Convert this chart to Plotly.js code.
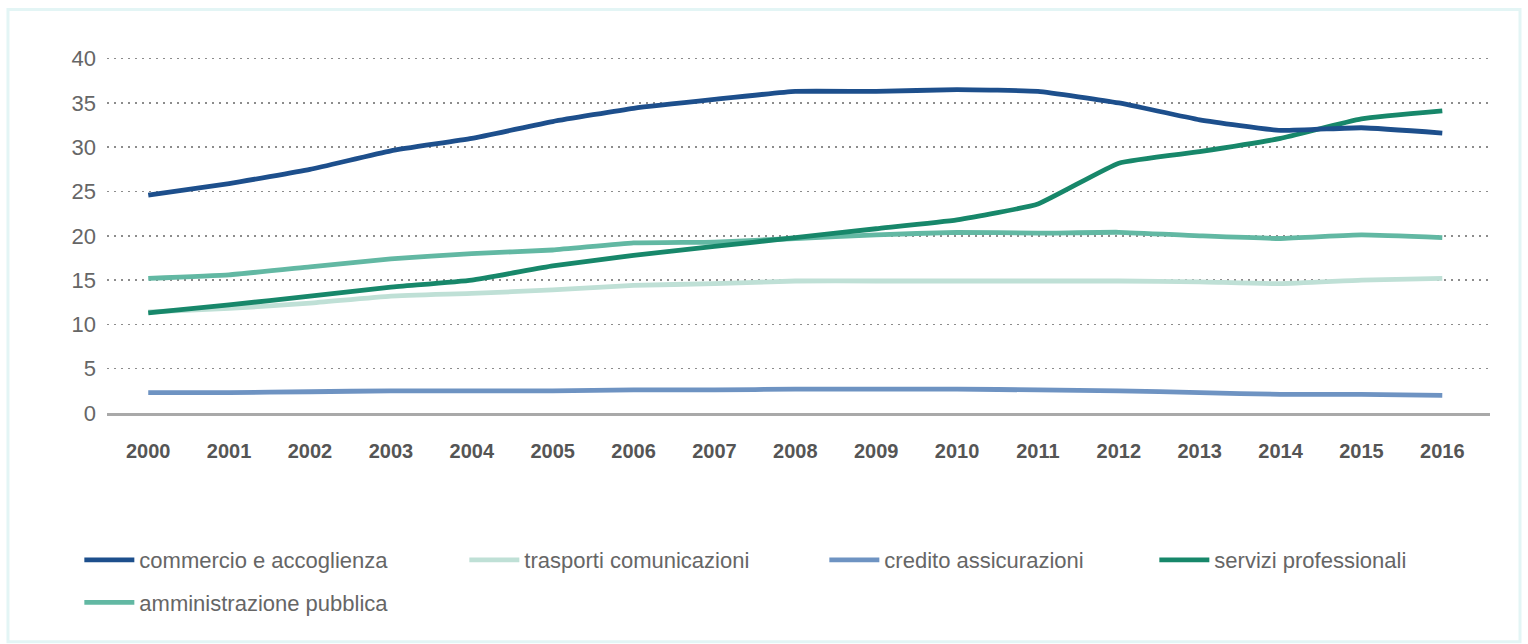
<!DOCTYPE html>
<html>
<head>
<meta charset="utf-8">
<script src="https://cdn.plot.ly/plotly-3.0.1.min.js"></script>
<style>html,body{margin:0;padding:0;background:#fff;}#chart{width:1528px;height:644px;}</style>
</head>
<body>
<div id="chart"></div>
<script>
const years = [2000, 2001, 2002, 2003, 2004, 2005, 2006, 2007, 2008, 2009, 2010, 2011, 2012, 2013, 2014, 2015, 2016];
const commercio = [24.6, 25.9, 27.5, 29.6, 31.0, 32.9, 34.4, 35.4, 36.3, 36.3, 36.5, 36.3, 35.0, 33.1, 31.9, 32.2, 31.6];
const trasporti = [11.4, 11.8, 12.4, 13.2, 13.5, 13.9, 14.4, 14.6, 14.9, 14.9, 14.9, 14.9, 14.9, 14.8, 14.6, 15.0, 15.2];
const credito = [2.3, 2.3, 2.4, 2.5, 2.5, 2.5, 2.6, 2.6, 2.7, 2.7, 2.7, 2.6, 2.5, 2.3, 2.1, 2.1, 2.0];
const servizi = [11.3, 12.2, 13.2, 14.2, 15.0, 16.6, 17.8, 18.8, 19.8, 20.8, 21.8, 23.6, 28.2, 29.5, 31.0, 33.2, 34.1];
const amministrazione = [15.2, 15.6, 16.5, 17.4, 18.0, 18.4, 19.2, 19.3, 19.7, 20.1, 20.4, 20.3, 20.4, 20.0, 19.7, 20.1, 19.8];
const seriesNames = ["commercio e accoglienza", "trasporti comunicazioni", "credito assicurazioni", "servizi professionali", "amministrazione pubblica"];
const yTicks = [0, 5, 10, 15, 20, 25, 30, 35, 40];

const colors = ["#1d4f8c", "#bfe0d6", "#6e93c2", "#17876a", "#62b8a3"];
const seriesData = [commercio, trasporti, credito, servizi, amministrazione];
const legendIds = ["legend", "legend2", "legend3", "legend4", "legend5"];

const traces = seriesData.map((vals, i) => ({
  type: "scatter",
  mode: "lines",
  x: years,
  y: vals,
  name: seriesNames[i],
  line: {color: colors[i], width: 4.8, shape: "spline", smoothing: 0.4},
  legend: legendIds[i],
  hoverinfo: "x+y+name"
}));
// draw order: trasporti underneath
const order = [1, 2, 4, 3, 0];
const ordered = order.map(i => traces[i]);

const legendFont = {family: "Liberation Sans, Arial, sans-serif", size: 22, color: "#666"};
function legendBox(x, y) {
  return {orientation: "h", x: x, xanchor: "left", y: y, yanchor: "top",
          font: legendFont, itemwidth: 50, bgcolor: "rgba(0,0,0,0)"};
}
const row1 = -0.353, row2 = -0.472;

const layout = {
  width: 1528,
  height: 644,
  margin: {l: 107, r: 38, t: 56, b: 231},
  paper_bgcolor: "#ffffff",
  plot_bgcolor: "#ffffff",
  showlegend: true,
  xaxis: {
    range: [1999.49, 2016.59],
    tickvals: years,
    ticktext: years.map(String),
    showgrid: false,
    zeroline: false,
    showline: true,
    linecolor: "#a9a9a9",
    linewidth: 3,
    ticks: "",
    ticklabelstandoff: 18,
    tickfont: {family: "Liberation Sans, Arial, sans-serif", size: 20, color: "#555", weight: "bold"},
    fixedrange: true
  },
  yaxis: {
    range: [0, 40.3],
    tickvals: yTicks,
    ticktext: yTicks.map(String),
    showgrid: true,
    gridcolor: "#8c8c8c",
    gridwidth: 1.5,
    griddash: "2px,5px",
    zeroline: false,
    showline: false,
    ticks: "",
    ticklabelstandoff: 10,
    tickfont: {family: "Liberation Sans, Arial, sans-serif", size: 22, color: "#666"},
    fixedrange: true
  },
  legend: legendBox(-0.02, row1),
  legend2: legendBox(-0.02 + 385 / 1383, row1),
  legend3: legendBox(-0.02 + 745 / 1383, row1),
  legend4: legendBox(-0.02 + 1075 / 1383, row1),
  legend5: legendBox(-0.02, row2),
  shapes: [{
    type: "rect", xref: "paper", yref: "paper",
    x0: -0.0716, x1: 1.0217, y0: -0.641, y1: 1.13,
    line: {color: "#e3f5f5", width: 3},
    fillcolor: "rgba(0,0,0,0)",
    layer: "below"
  }]
};

Plotly.newPlot("chart", ordered, layout, {displayModeBar: false, staticPlot: true});
</script>
</body>
</html>
